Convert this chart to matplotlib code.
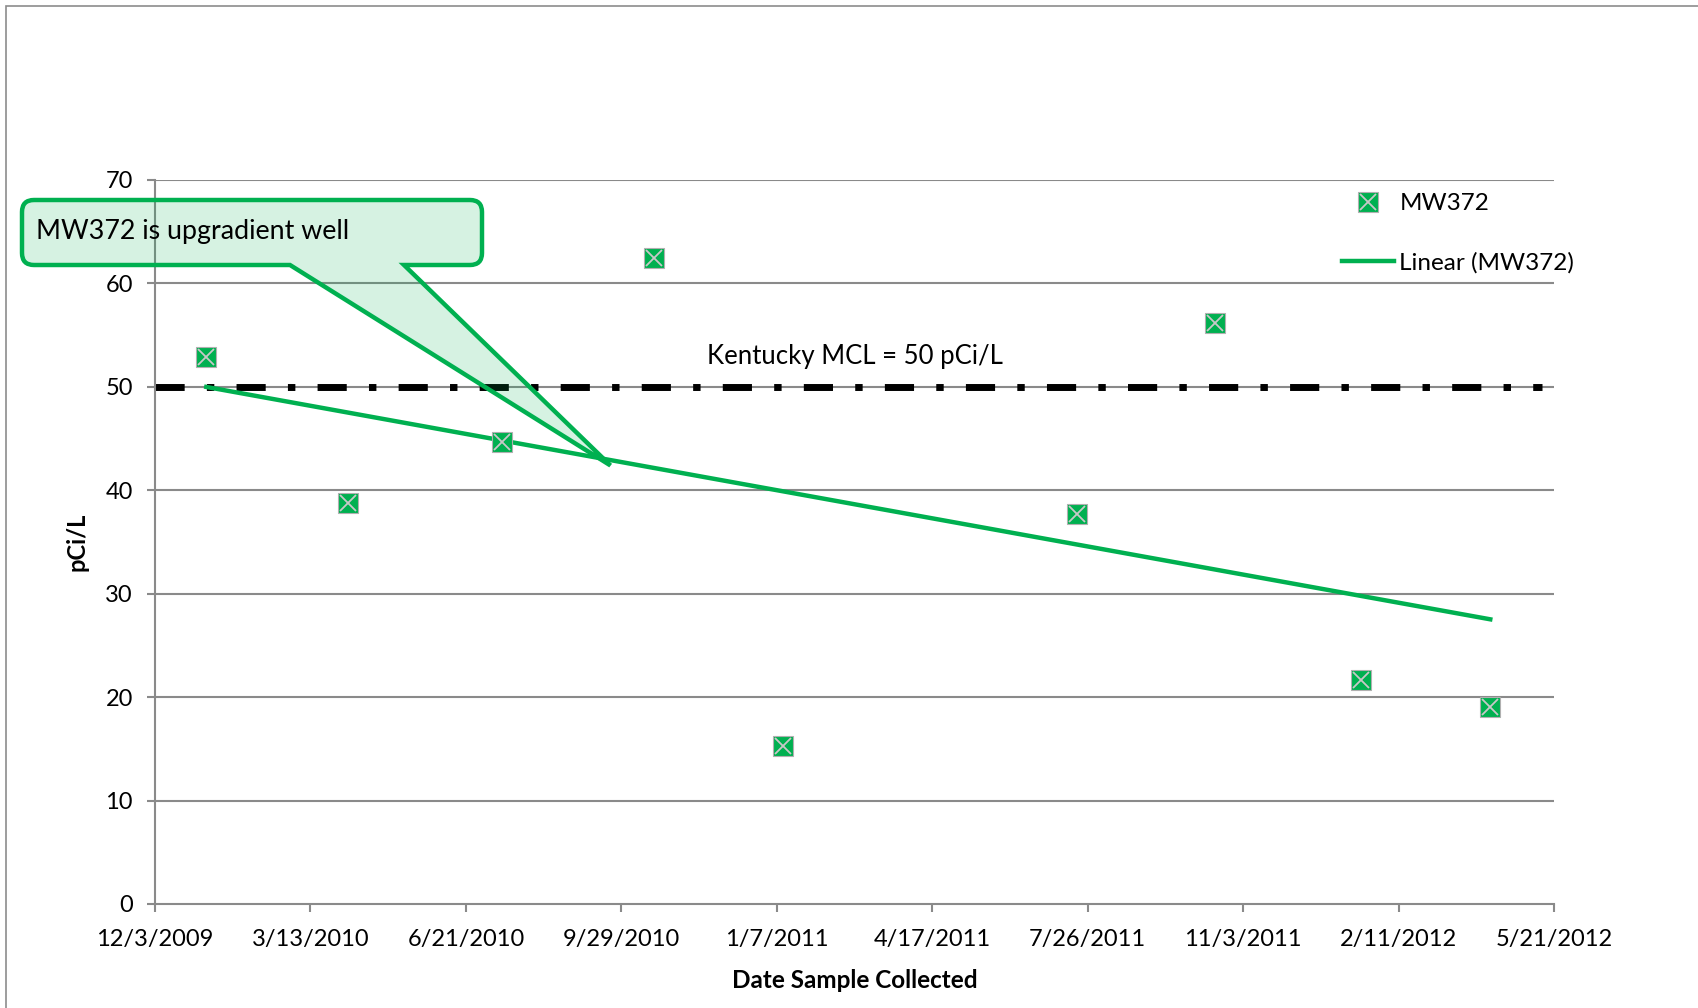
import numpy as np
import pandas as pd
import matplotlib
matplotlib.use("Agg")
import matplotlib.pyplot as plt
import matplotlib.dates as mdates
from matplotlib.path import Path
from matplotlib.patches import PathPatch, Rectangle
from matplotlib.legend_handler import HandlerTuple
import matplotlib.transforms as mtransforms

plt.rcParams['font.family'] = ['Lato', 'DejaVu Sans']

# sample data for MW372
sample_dates = ['2010-01-05', '2010-04-06', '2010-07-14', '2010-10-20', '2011-01-11',
                '2011-07-19', '2011-10-16', '2012-01-18', '2012-04-10']
mw372 = [52.9, 38.8, 44.7, 62.5, 15.3, 37.7, 56.2, 21.7, 19.0]

# kentucky MCL line
mcl_value = 50
mcl_dates = ['2009-12-03', '2012-05-13']

tick_labels = ['12/3/2009', '3/13/2010', '6/21/2010', '9/29/2010', '1/7/2011',
               '4/17/2011', '7/26/2011', '11/3/2011', '2/11/2012', '5/21/2012']
y_ticks = [0, 10, 20, 30, 40, 50, 60, 70]

GREEN = '#00B050'
GRID = '#8a8a8a'

W, H = 1698, 1008
fig = plt.figure(figsize=(W / 100, H / 100), dpi=100)
ax = fig.add_axes([155 / W, 1 - 904 / H, (1554 - 155) / W, (904 - 180) / H])

x = mdates.date2num(pd.to_datetime(sample_dates))
y = np.array(mw372)
xt = mdates.date2num(pd.to_datetime(tick_labels, format='%m/%d/%Y'))

# gridlines
for v in y_ticks[1:]:
    ax.axhline(v, color=GRID, lw=1.5, zorder=1)

# MCL line
mx = mdates.date2num(pd.to_datetime(mcl_dates))
ax.plot(mx, [mcl_value, mcl_value], color='black', lw=5,
        dashes=(4.2, 3.2, 1.07, 3.2), solid_capstyle='butt',
        dash_capstyle='butt', zorder=2)
ax.text(0.5, 0.756, 'Kentucky MCL = 50 pCi/L', transform=ax.transAxes,
        ha='center', va='center', fontsize=18.5)

# linear trend (like the excel trendline)
k, b = np.polyfit(x, y, 1)
tx = np.array([x.min(), x.max()])
trend, = ax.plot(tx, k * tx + b, color=GREEN, lw=3.2, zorder=3)

# markers: green square with grey cross
sq, = ax.plot(x, y, 's', ms=14, mfc=GREEN, mec='#b0b0b0', mew=0.8, ls='none', zorder=4)
cr, = ax.plot(x, y, 'x', ms=11, mec='#c8c8c8', mew=1.3, ls='none', zorder=5)

ax.set_xlim(xt[0], xt[-1])
ax.set_ylim(0, 70)
ax.set_xticks(xt)
ax.set_xticklabels(tick_labels)
ax.set_yticks(y_ticks)
ax.tick_params(axis='both', labelsize=17, color=GRID, width=1.5, length=6)
ax.tick_params(axis='x', pad=12)
ax.tick_params(axis='y', pad=10)
for s in ['top', 'right']:
    ax.spines[s].set_visible(False)
for s in ['left', 'bottom']:
    ax.spines[s].set_color(GRID)
    ax.spines[s].set_linewidth(1.5)

ax.set_ylabel('pCi/L', fontsize=17, fontweight='bold', labelpad=12)
ax.set_xlabel('Date Sample Collected', fontsize=17.5, fontweight='bold', labelpad=14)

leg = fig.legend([(sq, cr), trend], ['MW372', 'Linear (MW372)'],
                 handler_map={tuple: HandlerTuple(ndivide=1, pad=0)},
                 loc='upper left', bbox_to_anchor=(1330 / W, 1 - 181 / H),
                 frameon=False, fontsize=17.5, handlelength=2.15,
                 handletextpad=0.2, labelspacing=1.55, borderpad=0)

# callout box with a pointer, built in pixel units
tip_x = mdates.date2num(pd.Timestamp('2010-09-22'))
tip_y = 42.4
fig.canvas.draw()
tip_px = ax.transData.transform((tip_x, tip_y))
x0, x1 = 22, 482
ytop, ybot = H - 200, H - 265
r = 12
wl, wr = 290, 404
verts = [(x0 + r, ybot), (wl, ybot), tuple(tip_px), (wr, ybot), (x1 - r, ybot),
         (x1, ybot), (x1, ybot + r), (x1, ytop - r),
         (x1, ytop), (x1 - r, ytop), (x0 + r, ytop),
         (x0, ytop), (x0, ytop - r), (x0, ybot + r),
         (x0, ybot), (x0 + r, ybot), (x0 + r, ybot)]
codes = [Path.MOVETO, Path.LINETO, Path.LINETO, Path.LINETO, Path.LINETO,
         Path.CURVE3, Path.CURVE3, Path.LINETO,
         Path.CURVE3, Path.CURVE3, Path.LINETO,
         Path.CURVE3, Path.CURVE3, Path.LINETO,
         Path.CURVE3, Path.CURVE3, Path.CLOSEPOLY]
px_trans = mtransforms.Affine2D().scale(1 / W, 1 / H) + fig.transFigure
callout = PathPatch(Path(verts, codes), facecolor=(0.0, 0.69, 0.31, 0.16),
                    edgecolor=GREEN, lw=3.2, transform=px_trans, zorder=6,
                    joinstyle='miter')
fig.patches.append(callout)
fig.text(36 / W, 1 - 232 / H, 'MW372 is upgradient well', fontsize=19.3,
         ha='left', va='center', zorder=7)

# chart area border (cut off at right and bottom)
fig.patches.append(Rectangle((6 / W, -0.1), 1.2, 1 - 6 / H + 0.1, fill=False,
                             edgecolor='#8c8c8c', lw=1.2,
                             transform=fig.transFigure, clip_on=False))

fig.savefig('out.png', dpi=100)
